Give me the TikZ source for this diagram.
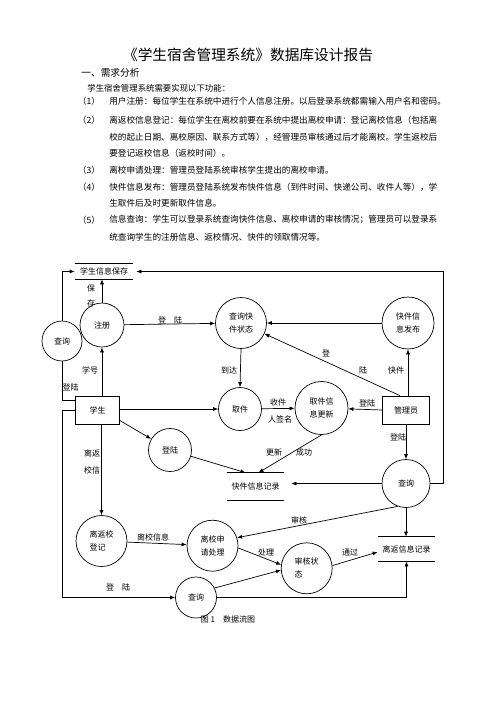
\documentclass[tikz,border=0pt]{standalone}
\usepackage{fontspec}
\setmainfont{Noto Sans CJK SC}
\usetikzlibrary{positioning, calc, arrows.meta}

\begin{document}
\begin{tikzpicture}[x=1pt, y=-1pt, line width=0.7pt,
    txt/.style={font=\fontsize{8}{13}\selectfont, inner sep=0pt},
    body/.style={font=\fontsize{8.63}{12}\selectfont, inner sep=0pt, anchor=west},
    proc/.style={circle, draw, minimum size=#1, inner sep=0pt, align=center, font=\fontsize{8}{13}\selectfont},
    proc/.default=50pt,
    ent/.style={draw, minimum height=28pt, inner sep=0pt, font=\fontsize{8}{13}\selectfont},
    store/.style={minimum width=57pt, minimum height=#1, inner sep=0pt, font=\fontsize{8}{13}\selectfont},
    store/.default=20pt,
    flow/.style={-{Latex[length=5pt,width=4pt]}}]
    \path[use as bounding box, fill=white] (0,0) rectangle (496,702);
    % 标题与需求说明
    \node[font=\fontsize{14.7}{16}\selectfont, inner sep=0pt] (title) at (248, 55) {《学生宿舍管理系统》数据库设计报告};
    \node[body, font=\fontsize{9.7}{12}\selectfont] (sec) at (81, 73) {一、需求分析};
    \node[body, font=\fontsize{8.4}{12}\selectfont] (intro) at (87, 88) {学生宿舍管理系统需要实现以下功能：};
    \foreach \y/\n in {101/1, 120/2, 170/3, 187/4, 220/5} {
      \node[body, anchor=center] (no\n) at (89, \y) {（\n）};
    }
    \foreach \y/\s [count=\i] in {101/用户注册：每位学生在系统中进行个人信息注册。以后登录系统都需输入用户名和密码。,
        120/离返校信息登记：每位学生在离校前要在系统中提出离校申请：登记离校信息（包括离,
        137/校的起止日期、离校原因、联系方式等），经管理员审核通过后才能离校。学生返校后,
        153/要登记返校信息（返校时间）。,
        170/离校申请处理：管理员登陆系统审核学生提出的离校申请。,
        187/快件信息发布：管理员登陆系统发布快件信息（到件时间、快递公司、收件人等），学,
        203/生取件后及时更新取件信息。,
        220/信息查询：学生可以登录系统查询快件信息、离校申请的审核情况；管理员可以登录系,
        237/统查询学生的注册信息、返校情况、快件的领取情况等。} {
      \node[body] (ln\i) at (109, \y) {\s};
    }
    % 加工
    \node[proc=44pt] (reg) at (102, 325) {注册};
    \node[proc=40pt] (qL) at (62, 341) {查询};
    \node[proc=51pt] (qExp) at (241, 323) {查询快\\件状态};
    \node[proc=52pt] (pub) at (408, 323) {快件信\\息发布};
    \node[proc=43pt] (pick) at (240, 409) {取件};
    \node[proc=53pt] (upd) at (321.5, 408) {取件信\\息更新};
    \node[proc=43pt] (login) at (170, 450) {登陆};
    \node[proc=48pt] (qA) at (406, 483.5) {查询};
    \node[proc=51pt, align=left] (leave) at (101.5, 541) {离返校\\登记};
    \node[proc=51pt] (apply) at (212.5, 545.7) {离校申\\请处理};
    \node[proc=51pt, align=left] (state) at (306.7, 568.3) {审核状\\态};
    \node[proc=41pt] (qB) at (196, 597.5) {查询};
    % 外部实体
    \node[ent, minimum width=43.5pt] (stu) at (97.5, 410) {学生};
    \node[ent, minimum width=46.5pt] (adm) at (406, 410) {管理员};
    % 数据存储
    \node[store=15pt, minimum width=58pt] (stuStore) at (104, 271.5) {学生信息保存};
    \node[store=27pt] (expStore) at (255.5, 486.5) {快件信息记录};
    \node[store=24pt] (retStore) at (406.5, 549) {离返信息记录};
    \foreach \s in {stuStore, expStore, retStore} {
      \draw (\s.north west) -- (\s.north east) (\s.south west) -- (\s.south east);
    }
    % 数据流
    \coordinate (rt) at (443, 271.5);
    \draw[flow] (qL.north) |- (stuStore.west);
    \draw[flow] (reg.north) -- (reg.north |- stuStore.south);
    \draw[flow, shorten >=3pt] (qA.east) -| (rt) -- (stuStore.east);
    \draw[flow] (reg) -- (qExp);
    \draw[flow] (reg.south |- stu.north) -- (reg.south);
    \draw (qL.south) |- ([yshift=10pt]stu.west);
    \draw[flow] (stu.west) -| (qL.south |- qB.west) -- (qB.west);
    \draw[flow] (stu.east |- pick.west) -- (pick.west);
    \draw[flow] (qExp.south) -- (pick.north);
    \draw[flow] (pub.west) -- (qExp.east);
    \draw[flow] ([xshift=-6pt]adm.north) -- (qExp);
    \draw[flow] (pub.south |- adm.north) -- (pub.south);
    \draw[flow] (pick) -- (upd);
    \draw[flow] (adm.west) -- (upd);
    \draw[flow] (upd.south) -- ([xshift=3pt]expStore.north);
    \draw[flow] ([yshift=4pt]stu.south east) -- (login);
    \draw[flow] (login) -- ([xshift=-10pt]expStore.north);
    \draw[flow] (adm.south) -- (qA.north);
    \draw[flow, shorten >=7pt] (qA.west) -- (qA.west -| expStore.east);
    \draw[flow] (leave.north |- stu.south) -- (leave.north);
    \draw[flow] (leave) -- (apply);
    \draw[flow] (qA.250) -- (apply.18);
    \draw[flow] (apply.-5) -- (state.172);
    \draw[flow] (state.6) -- ([yshift=-3pt]retStore.west);
    \draw[flow] (qA.south) -- (qA.south |- retStore.north);
    \draw[flow] (qB.27) -- (state.184);
    \draw[flow] (qB.east) -| (retStore.south);
    % 标注
    \foreach \x/\y/\t [count=\i] in {91/288/保, 91/303/存, 170/320/登　陆, 90/370/学号,
        70.5/387/登陆, 229/370/到达, 326/353/登, 363/370/陆, 396/370/快件,
        278/402/收件, 280/419/人签名, 367/403/登陆, 398/437/登陆,
        92/453/离返, 92/470/校信, 274/452/更新, 304/452/成功, 299/520/审核,
        153/537/离校信息, 266/552/处理, 350/552/通过, 118/587/登　陆} {
      \node[txt] (lb\i) at (\x, \y) {\t};
    }
    \node[txt] (cap) at (228, 619) {图 1　数据流图};
\end{tikzpicture}
\end{document}
